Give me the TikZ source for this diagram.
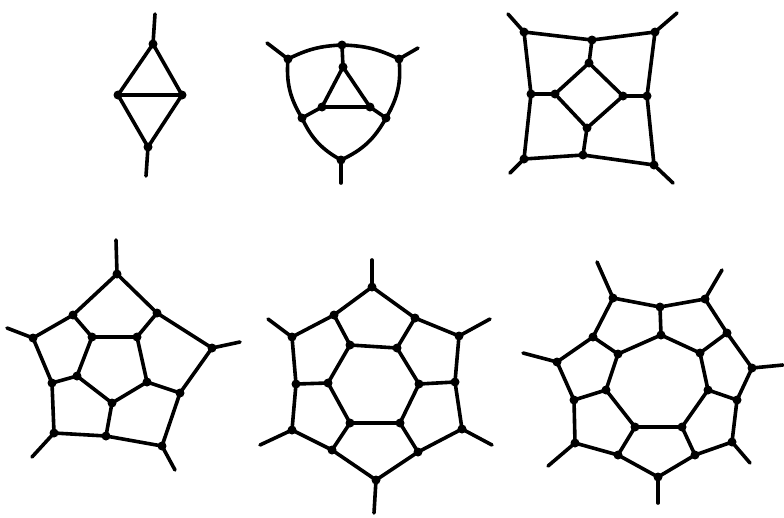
\documentclass[tikz,border=0pt]{standalone}
\begin{document}
\begin{tikzpicture}[x=1pt,y=-1pt,
  edge/.style={line width=3.6pt,line cap=round,line join=round},
  vdot/.style={fill=black}]
\useasboundingbox[fill=white] (0,0) rectangle (784,517);
% ---------- graph 1 : diamond
\coordinate (a1) at (153,44); \coordinate (a2) at (118,95);
\coordinate (a3) at (182,95); \coordinate (a4) at (148,147);
\coordinate (as1) at (155,14); \coordinate (as2) at (146,176);
\draw[edge] (as1) -- (a1) -- (a2) -- (a4) -- (a3) -- (a1);
\draw[edge] (a2) -- (a3);
\draw[edge] (a4) -- (as2);
% ---------- graph 2 : curved triangle
\coordinate (b1) at (342,45); \coordinate (b2) at (288,59);
\coordinate (b3) at (399,59); \coordinate (b4) at (302,118);
\coordinate (b5) at (386,118); \coordinate (b6) at (341,160);
\coordinate (b7) at (343,67); \coordinate (b8) at (322,107);
\coordinate (b9) at (370,107);
\coordinate (bs1) at (267,43); \coordinate (bs2) at (418,48);
\coordinate (bs3) at (341,183);
\draw[edge] (b1) to[bend left=12] (b3) to[bend left=18] (b5)
  to[bend left=18] (b6) to[bend left=18] (b4) to[bend left=18] (b2)
  to[bend left=12] (b1);
\draw[edge] (b1) -- (b7) -- (b8) -- (b9) -- (b7);
\draw[edge] (b8) -- (b4); \draw[edge] (b9) -- (b5);
\draw[edge] (b2) -- (bs1); \draw[edge] (b3) -- (bs2); \draw[edge] (b6) -- (bs3);
% ---------- graph 3 : square
\coordinate (c1) at (524,32); \coordinate (c2) at (655,32);
\coordinate (c3) at (654,165); \coordinate (c4) at (524,159);
\coordinate (c5) at (592,40); \coordinate (c6) at (647,96);
\coordinate (c7) at (583,155); \coordinate (c8) at (531,94);
\coordinate (c9) at (589,63); \coordinate (c10) at (623,96);
\coordinate (c11) at (587,128); \coordinate (c12) at (555,94);
\coordinate (cs1) at (508,14); \coordinate (cs2) at (677,13);
\coordinate (cs3) at (673,183); \coordinate (cs4) at (510,173);
\draw[edge] (c1) -- (c5) -- (c2) -- (c6) -- (c3) -- (c7) -- (c4) -- (c8) -- cycle;
\draw[edge] (c9) -- (c10) -- (c11) -- (c12) -- cycle;
\draw[edge] (c5) -- (c9); \draw[edge] (c6) -- (c10);
\draw[edge] (c7) -- (c11); \draw[edge] (c8) -- (c12);
\draw[edge] (c1) -- (cs1); \draw[edge] (c2) -- (cs2);
\draw[edge] (c3) -- (cs3); \draw[edge] (c4) -- (cs4);
% ---------- graph 4 : pentagon
\coordinate (p1) at (117,274); \coordinate (p2) at (212,348);
\coordinate (p3) at (162,446); \coordinate (p4) at (54,433);
\coordinate (p5) at (33,338);
\coordinate (pm1) at (157,313); \coordinate (pm2) at (180,393);
\coordinate (pm3) at (106,436); \coordinate (pm4) at (52,383);
\coordinate (pm5) at (73,315);
\coordinate (pi1) at (137,337); \coordinate (pi2) at (147,382);
\coordinate (pi3) at (112,403); \coordinate (pi4) at (77,376);
\coordinate (pi5) at (92,337);
\coordinate (ps1) at (116,240); \coordinate (ps2) at (240,342);
\coordinate (ps3) at (175,470); \coordinate (ps4) at (32,457);
\coordinate (ps5) at (7,328);
\draw[edge] (p1) -- (pm1) -- (p2) -- (pm2) -- (p3) -- (pm3) -- (p4) -- (pm4) -- (p5) -- (pm5) -- cycle;
\draw[edge] (pi1) -- (pi2) -- (pi3) -- (pi4) -- (pi5) -- cycle;
\foreach \k in {1,...,5} {
  \draw[edge] (pm\k) -- (pi\k);
  \draw[edge] (p\k) -- (ps\k);
}
% ---------- graph 5 : hexagon
\coordinate (h1) at (372,287); \coordinate (h2) at (459,336);
\coordinate (h3) at (462,429); \coordinate (h4) at (376,480);
\coordinate (h5) at (292,430); \coordinate (h6) at (292,337);
\coordinate (hm1) at (415,318); \coordinate (hm2) at (455,382);
\coordinate (hm3) at (418,452); \coordinate (hm4) at (332,450);
\coordinate (hm5) at (296,384); \coordinate (hm6) at (334,315);
\coordinate (hi1) at (397,348); \coordinate (hi2) at (419,384);
\coordinate (hi3) at (400,423); \coordinate (hi4) at (350,423);
\coordinate (hi5) at (328,383); \coordinate (hi6) at (350,345);
\coordinate (hs1) at (372,260); \coordinate (hs2) at (490,319);
\coordinate (hs3) at (492,445); \coordinate (hs4) at (374,513);
\coordinate (hs5) at (260,445); \coordinate (hs6) at (268,319);
\draw[edge] (h1) -- (hm1) -- (h2) -- (hm2) -- (h3) -- (hm3) -- (h4) -- (hm4) -- (h5) -- (hm5) -- (h6) -- (hm6) -- cycle;
\draw[edge] (hi1) -- (hi2) -- (hi3) -- (hi4) -- (hi5) -- (hi6) -- cycle;
\foreach \k in {1,...,6} {
  \draw[edge] (hm\k) -- (hi\k);
  \draw[edge] (h\k) -- (hs\k);
}
% ---------- graph 6 : heptagon
\coordinate (s1) at (613,298); \coordinate (s2) at (705,299);
\coordinate (s3) at (752,368); \coordinate (s4) at (732,442);
\coordinate (s5) at (658,477); \coordinate (s6) at (575,443);
\coordinate (s7) at (557,362);
\coordinate (sm1) at (660,307); \coordinate (sm2) at (727,333);
\coordinate (sm3) at (737,400); \coordinate (sm4) at (695,455);
\coordinate (sm5) at (618,455); \coordinate (sm6) at (574,400);
\coordinate (sm7) at (593,337);
\coordinate (si1) at (661,335); \coordinate (si2) at (700,353);
\coordinate (si3) at (708,390); \coordinate (si4) at (682,427);
\coordinate (si5) at (635,427); \coordinate (si6) at (606,390);
\coordinate (si7) at (618,354);
\coordinate (ss1) at (597,262); \coordinate (ss2) at (722,270);
\coordinate (ss3) at (783,365); \coordinate (ss4) at (750,463);
\coordinate (ss5) at (658,503); \coordinate (ss6) at (548,466);
\coordinate (ss7) at (523,353);
\draw[edge] (s1) -- (sm1) -- (s2) -- (sm2) -- (s3) -- (sm3) -- (s4) -- (sm4) -- (s5) -- (sm5) -- (s6) -- (sm6) -- (s7) -- (sm7) -- cycle;
\draw[edge] (si1) -- (si2) -- (si3) -- (si4) -- (si5) -- (si6) -- (si7) -- cycle;
\foreach \k in {1,...,7} {
  \draw[edge] (sm\k) -- (si\k);
  \draw[edge] (s\k) -- (ss\k);
}
% ---------- vertex dots
\foreach \n in {a1,a2,a3,a4,b1,b2,b3,b4,b5,b6,b7,b8,b9,
  c1,c2,c3,c4,c5,c6,c7,c8,c9,c10,c11,c12,
  p1,p2,p3,p4,p5,pm1,pm2,pm3,pm4,pm5,pi1,pi2,pi3,pi4,pi5,
  h1,h2,h3,h4,h5,h6,hm1,hm2,hm3,hm4,hm5,hm6,hi1,hi2,hi3,hi4,hi5,hi6,
  s1,s2,s3,s4,s5,s6,s7,sm1,sm2,sm3,sm4,sm5,sm6,sm7,si1,si2,si3,si4,si5,si6,si7}
  \fill[vdot] (\n) circle (4.5pt);
\end{tikzpicture}
\end{document}
